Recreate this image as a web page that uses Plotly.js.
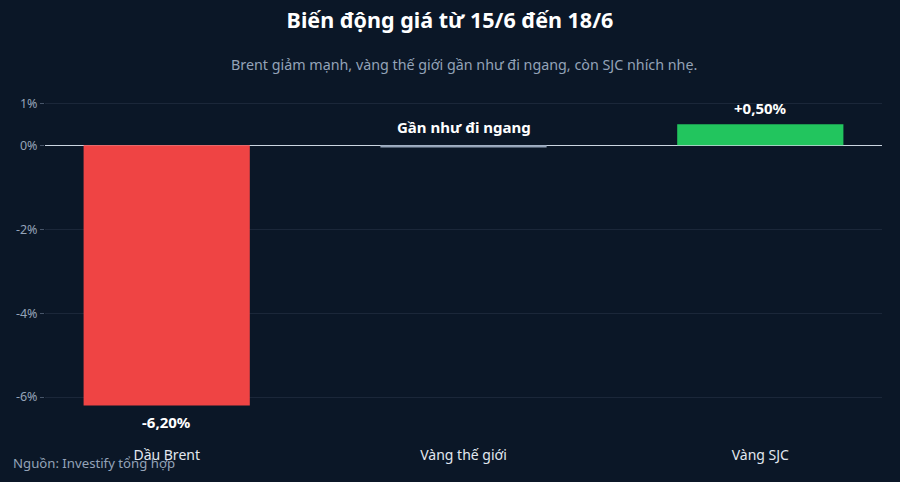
<!DOCTYPE html>
<html>
<head>
<meta charset="utf-8">
<script src="https://cdn.plot.ly/plotly-3.0.1.min.js"></script>
<style>
  html, body { margin: 0; padding: 0; background: #0b1727; }
  #chart { width: 900px; height: 482px; }
</style>
</head>
<body>
<div id="chart"></div>
<script>
// du lieu
var categories = ["Dầu Brent", "Vàng thế giới", "Vàng SJC"];
var changes = [-6.2, -0.05, 0.5];
var barLabels = ["-6,20%", "Gần như đi ngang", "+0,50%"];
var barColors = ["#ef4444", "#94a3b8", "#22c55e"];
var yTickVals = [1, 0, -2, -4, -6];
var yTickText = ["1%", "0%", "-2%", "-4%", "-6%"];

var trace = {
  type: "bar",
  x: categories,
  y: changes,
  width: 0.56,
  marker: { color: barColors },
  hoverinfo: "none"
};

// nhan: duoi cot am, tren cot duong; cot giua gan 0 thi ghi chu phia tren
var labelNotes = categories.map(function (c, i) {
  var flat = Math.abs(changes[i]) < 0.1;
  var up = changes[i] >= 0 || flat;
  return {
    text: "<b>" + barLabels[i] + "</b>",
    x: c,
    y: flat ? 0 : changes[i],
    xanchor: "center",
    yanchor: "middle",
    yshift: up ? (flat ? 18 : 16) : -17,
    showarrow: false,
    font: { family: "Noto Sans", size: 15, color: "#ffffff" }
  };
});

var layout = {
  width: 900,
  height: 482,
  paper_bgcolor: "#0b1727",
  plot_bgcolor: "#0b1727",
  font: { family: "Noto Sans", color: "#94a3b8" },
  margin: { l: 45, r: 18, t: 95, b: 43 },
  showlegend: false,
  title: {
    text: "<b>Biến động giá từ 15/6 đến 18/6</b>",
    font: { family: "Noto Sans", size: 21.5, color: "#ffffff" },
    x: 0.5,
    xanchor: "center",
    y: 0.958,
    yanchor: "middle"
  },
  xaxis: {
    range: [-0.41, 2.41],
    showgrid: false,
    zeroline: false,
    showline: false,
    ticks: "",
    ticklabelstandoff: 6,
    tickfont: { family: "Noto Sans", size: 14, color: "#e2e8f0" }
  },
  yaxis: {
    range: [-7, 1.2],
    tickvals: yTickVals,
    ticktext: yTickText,
    ticks: "outside",
    ticklen: 4,
    tickcolor: "#475569",
    gridcolor: "#1b2739",
    gridwidth: 1,
    zeroline: true,
    zerolinecolor: "#cbd5e1",
    zerolinewidth: 1.6,
    showline: false,
    tickfont: { family: "Noto Sans", size: 12.5, color: "#94a3b8" }
  },
  annotations: [
    {
      text: "Brent giảm mạnh, vàng thế giới gần như đi ngang, còn SJC nhích nhẹ.",
      xref: "paper", yref: "paper",
      x: 0.5, y: 1.089, xanchor: "center", yanchor: "middle",
      showarrow: false,
      font: { family: "Noto Sans", size: 14.3, color: "#94a3b8" }
    },
    {
      text: "Nguồn: Investify tổng hợp",
      xref: "paper", yref: "paper",
      x: -0.041, y: -0.07, xanchor: "left", yanchor: "middle",
      showarrow: false,
      font: { family: "Noto Sans", size: 13.2, color: "#94a3b8" }
    }
  ].concat(labelNotes)
};

Plotly.newPlot("chart", [trace], layout, { displayModeBar: false, staticPlot: true });
</script>
</body>
</html>
